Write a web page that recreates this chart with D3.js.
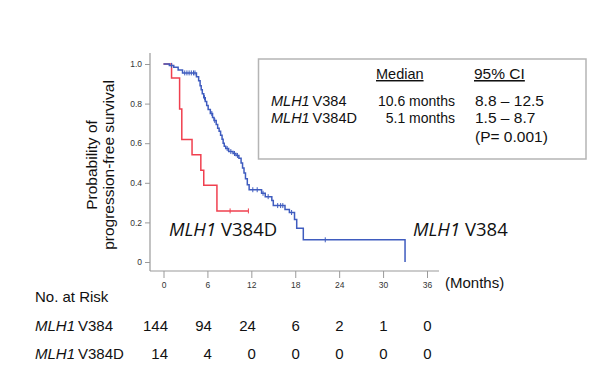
<!DOCTYPE html>
<html><head><meta charset="utf-8">
<script src="https://cdn.jsdelivr.net/npm/d3@7"></script>
<style>
body{margin:0;background:#fff;}
svg{display:block;}
</style></head>
<body>
<script>
// ---- data ----
const timeTicks = [0, 6, 12, 18, 24, 30, 36];
const yTicks = [0, 0.2, 0.4, 0.6, 0.8, 1.0];
// Kaplan-Meier step points: [time (months), survival after step]
const v384Times = [0, 0.8, 1.4, 2.0, 2.6, 4.5, 4.8, 5.0, 5.15, 5.3, 5.5, 5.7, 5.9, 6.1, 6.4, 6.7, 6.9, 7.2, 7.4, 7.6, 7.8, 8.0, 8.15, 8.3, 8.5, 8.9, 9.5, 9.9, 10.3, 10.6, 10.8, 11.0, 11.2, 11.45, 11.7, 13.4, 13.9, 14.8, 15.0, 16.6, 17.2, 17.9, 18.2, 19.1, 33.0];
const v384Surv  = [1.0, 0.993, 0.983, 0.97, 0.955, 0.936, 0.915, 0.89, 0.87, 0.85, 0.83, 0.81, 0.79, 0.77, 0.75, 0.73, 0.715, 0.695, 0.675, 0.66, 0.64, 0.62, 0.60, 0.585, 0.573, 0.558, 0.548, 0.538, 0.524, 0.50, 0.475, 0.45, 0.42, 0.39, 0.365, 0.347, 0.33, 0.31, 0.285, 0.265, 0.25, 0.215, 0.17, 0.112, 0.0];
const v384Censor = [1.1, 2.9, 3.2, 3.5, 3.8, 4.1, 4.3, 5.6, 6.6, 7.0, 8.7, 9.2, 9.7, 10.1, 12.2, 12.8, 13.6, 14.3, 15.6, 16.0, 16.3, 17.5, 22.1];
const v384DTimes = [0, 1.1, 2.2, 2.5, 3.9, 5.1, 5.5, 7.3];
const v384DSurv  = [1.0, 0.929, 0.773, 0.619, 0.542, 0.464, 0.387, 0.258];
const v384DEnd = 11.6;
const v384DCensor = [9.1, 11.6];
const v384End = 33.0;
const groups = ["V384", "V384D"];
const medians = ["10.6 months", "5.1 months"];
const ci = ["8.8 \u2013 12.5", "1.5 \u2013 8.7"];
const pValue = "(P= 0.001)";
const riskV384 = [144, 94, 24, 6, 2, 1, 0];
const riskV384D = [14, 4, 0, 0, 0, 0, 0];

// ---- drawing ----
const W = 600, H = 381;
const svg = d3.select("body").append("svg").attr("width", W).attr("height", H);
const x = d3.scaleLinear().domain([0, 36]).range([163.5, 427]);
const y = d3.scaleLinear().domain([0, 1]).range([262, 64]);
const axisCol = "#9a9a9a";
const RED = "#f0404f", BLUE = "#3f5cbf";
const FONT = "'Liberation Sans', Arial, sans-serif";

// axes lines
svg.append("line").attr("x1", 150).attr("x2", 150).attr("y1", 53).attr("y2", 271)
  .attr("stroke", axisCol).attr("stroke-width", 1.2);
svg.append("line").attr("x1", 150).attr("x2", 439).attr("y1", 271).attr("y2", 271)
  .attr("stroke", axisCol).attr("stroke-width", 1.2);

const yAxis = svg.append("g").attr("transform", "translate(150,0)")
  .call(d3.axisLeft(y).tickValues(yTicks).tickSize(5).tickPadding(3)
    .tickFormat(d => d === 0 ? "0" : d3.format(".1f")(d)));
yAxis.select(".domain").remove();
yAxis.selectAll("line").attr("stroke", axisCol);
yAxis.selectAll("text").attr("font-family", FONT).attr("font-size", 8.5).attr("fill", "#333");

const xAxis = svg.append("g").attr("transform", "translate(0,271)")
  .call(d3.axisBottom(x).tickValues(timeTicks).tickSize(7).tickPadding(4));
xAxis.select(".domain").remove();
xAxis.selectAll("line").attr("stroke", axisCol);
xAxis.selectAll("text").attr("font-family", FONT).attr("font-size", 8.5).attr("fill", "#333");

// y label
const yl = svg.append("text").attr("transform", "translate(97,165) rotate(-90)")
  .attr("text-anchor", "middle").attr("font-family", FONT).attr("font-size", 15.5).attr("fill", "#111");
yl.append("tspan").attr("x", 0).attr("dy", 0).text("Probability of");
yl.append("tspan").attr("x", 0).attr("dy", 17).text("progression-free survival");

svg.append("text").attr("x", 445).attr("y", 288).attr("font-family", FONT).attr("font-size", 15)
  .attr("fill", "#111").text("(Months)");

// KM curves
function stepPath(times, surv, end) {
  const pts = [];
  for (let i = 0; i < times.length; i++) {
    if (i > 0) pts.push([times[i], surv[i - 1]]);
    pts.push([times[i], surv[i]]);
  }
  if (end > times[times.length - 1]) pts.push([end, surv[surv.length - 1]]);
  return d3.line().x(d => x(d[0])).y(d => y(d[1]))(pts);
}
function survAt(times, surv, t) {
  let v = surv[0];
  for (let i = 0; i < times.length; i++) if (times[i] <= t) v = surv[i];
  return v;
}
svg.append("path").attr("d", stepPath(v384DTimes, v384DSurv, v384DEnd))
  .attr("fill", "none").attr("stroke", RED).attr("stroke-width", 1.5);
svg.append("path").attr("d", stepPath(v384Times, v384Surv, v384End))
  .attr("fill", "none").attr("stroke", BLUE).attr("stroke-width", 1.5);

svg.selectAll(".cb").data(v384Censor).enter().append("line")
  .attr("x1", d => x(d)).attr("x2", d => x(d))
  .attr("y1", d => y(survAt(v384Times, v384Surv, d)) - 2.5)
  .attr("y2", d => y(survAt(v384Times, v384Surv, d)) + 2.5)
  .attr("stroke", BLUE).attr("stroke-width", 1);
svg.selectAll(".cr").data(v384DCensor).enter().append("line")
  .attr("x1", d => x(d)).attr("x2", d => x(d))
  .attr("y1", d => y(survAt(v384DTimes, v384DSurv, d)) - 2.5)
  .attr("y2", d => y(survAt(v384DTimes, v384DSurv, d)) + 2.5)
  .attr("stroke", RED).attr("stroke-width", 1);

// curve labels
const LFONT = "'Open Sans', 'Noto Sans', sans-serif";
function curveLabel(xp, yp, grp) {
  const t = svg.append("text").attr("x", xp).attr("y", yp).attr("font-family", LFONT)
    .attr("font-size", 18.5).attr("fill", "#111");
  t.append("tspan").attr("font-style", "italic").text("MLH1");
  t.append("tspan").text(" " + grp);
}
curveLabel(169, 236, groups[1]);
curveLabel(413, 236, groups[0]);

// legend box
svg.append("rect").attr("x", 258.5).attr("y", 59).attr("width", 327.5).attr("height", 100)
  .attr("fill", "#fff").attr("stroke", "#b5b5b5").attr("stroke-width", 1.5);
function ltext(xp, yp, size, anchor) {
  return svg.append("text").attr("x", xp).attr("y", yp).attr("font-family", FONT)
    .attr("font-size", size).attr("fill", "#111").attr("text-anchor", anchor || "start");
}
ltext(376, 79, 14.5).attr("text-decoration", "underline").text("Median");
ltext(474, 79, 15.5).attr("text-decoration", "underline").text("95% CI");
[106, 123].forEach((yy, i) => {
  const t = ltext(271, yy, 14.5);
  t.append("tspan").attr("font-style", "italic").text("MLH1");
  t.append("tspan").text("\u2009" + groups[i]);
  ltext(455, yy, 14, "end").text(medians[i]);
  ltext(475, yy, 15.5).text(ci[i]);
});
ltext(475, 142, 15.5).text(pValue);

// number at risk
svg.append("text").attr("x", 35).attr("y", 302).attr("font-family", FONT).attr("font-size", 15)
  .attr("fill", "#111").text("No. at Risk");
[[331, riskV384, groups[0]], [359, riskV384D, groups[1]]].forEach(([yy, arr, g]) => {
  const t = svg.append("text").attr("x", 35).attr("y", yy).attr("font-family", FONT)
    .attr("font-size", 15).attr("fill", "#111");
  t.append("tspan").attr("font-style", "italic").text("MLH1");
  t.append("tspan").text("\u2009" + g);
  svg.selectAll(null).data(arr).enter().append("text")
    .attr("x", (d, i) => x(timeTicks[i]) + 4.5).attr("y", yy)
    .attr("text-anchor", "end").attr("font-family", FONT).attr("font-size", 15)
    .attr("fill", "#111").text(d => d);
});
</script>
</body></html>
